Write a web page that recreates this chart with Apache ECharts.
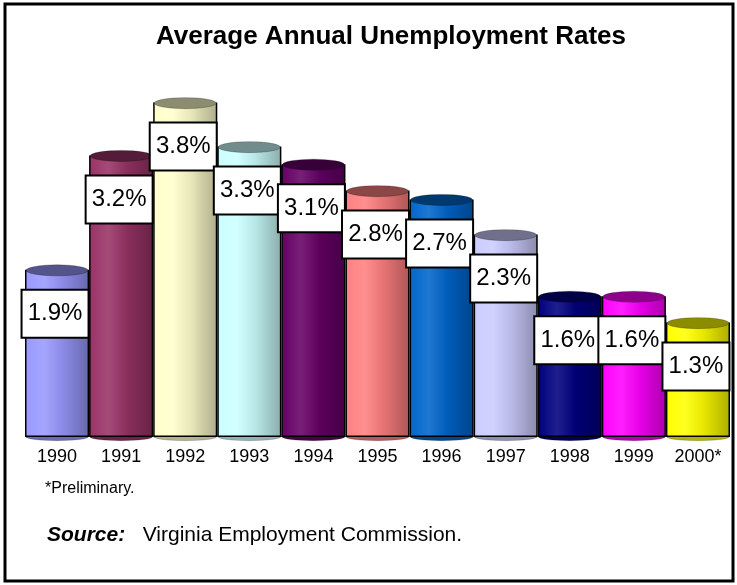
<!DOCTYPE html>
<html><head><meta charset="utf-8">
<script src="https://cdn.jsdelivr.net/npm/echarts@6/dist/echarts.min.js"></script>
<style>html,body{margin:0;padding:0;background:#fff}#c{width:737px;height:585px}</style>
</head><body><div id="c"></div>
<script>
const categories = ['1990','1991','1992','1993','1994','1995','1996','1997','1998','1999','2000*'];
const rates = [1.9, 3.2, 3.8, 3.3, 3.1, 2.8, 2.7, 2.3, 1.6, 1.6, 1.3];
const barColors = ['#9999ff','#993366','#ffffcc','#ccffff','#660066','#ff8080','#0066cc','#ccccff','#000080','#ff00ff','#ffff00'];

function shade(hex, f) {
  const n = parseInt(hex.slice(1), 16);
  let r = (n >> 16) & 255, g = (n >> 8) & 255, b = n & 255;
  if (f >= 0) { r += (255 - r) * f; g += (255 - g) * f; b += (255 - b) * f; }
  else { r *= (1 + f); g *= (1 + f); b *= (1 + f); }
  return 'rgb(' + Math.round(r) + ',' + Math.round(g) + ',' + Math.round(b) + ')';
}
function grad(hex) {
  return new echarts.graphic.LinearGradient(0, 0, 1, 0, [
    {offset: 0, color: shade(hex, 0)},
    {offset: 0.3, color: shade(hex, 0.12)},
    {offset: 0.6, color: shade(hex, -0.1)},
    {offset: 1, color: shade(hex, -0.32)}
  ]);
}
const FONT = '"Liberation Sans", Arial, sans-serif';
const chart = echarts.init(document.getElementById('c'));
chart.setOption({
  animation: false,
  title: {
    text: 'Average Annual Unemployment Rates',
    left: 386, textAlign: 'center', top: 19,
    textStyle: {fontFamily: FONT, fontSize: 26, fontWeight: 'bold', color: '#000'}
  },
  grid: {left: 25, right: 7, top: 85, bottom: 148},
  xAxis: {
    type: 'category', data: categories,
    axisLine: {show: false}, axisTick: {show: false},
    axisLabel: {fontFamily: FONT, fontSize: 18, color: '#000', margin: 11}
  },
  yAxis: {type: 'value', min: 0, max: 4, show: false, splitLine: {show: false}},
  series: [
    {
      type: 'bar', barCategoryGap: 0, barGap: '-100%', z: 2,
      data: rates.map((v, i) => ({value: v, itemStyle: {color: grad(barColors[i])}})),
      itemStyle: {borderColor: '#000', borderWidth: 1.5}
    },
    {
      type: 'pictorialBar', symbol: 'circle', symbolPosition: 'start',
      symbolSize: [63, 8], symbolOffset: [0, '50%'], z: 1,
      data: rates.map((v, i) => ({value: v, itemStyle: {color: shade(barColors[i], -0.3)}})),
      itemStyle: {borderColor: '#000', borderWidth: 2}
    },
    {
      type: 'pictorialBar', symbol: 'circle', symbolPosition: 'end',
      symbolSize: [62, 11], symbolOffset: [0, '-50%'], z: 3,
      data: rates.map((v, i) => ({value: v, itemStyle: {color: shade(barColors[i], -0.45)}})),
      itemStyle: {borderColor: '#000', borderWidth: 2.5}
    },
    {
      type: 'bar', barCategoryGap: 0, barGap: '-100%', z: 10,
      data: rates,
      itemStyle: {color: 'rgba(0,0,0,0)'},
      silent: true,
      label: {
        show: true, position: 'insideTop', distance: 21, offset: [-2, 0],
        formatter: p => p.value.toFixed(1) + '%',
        fontFamily: FONT, fontSize: 24, color: '#000',
        backgroundColor: '#fff', borderColor: '#000', borderWidth: 2,
        width: 55, align: 'center', lineHeight: 26, padding: [10, 5]
      }
    }
  ],
  graphic: [
    {type: 'rect', shape: {x: 5, y: 4, width: 728, height: 577}, style: {fill: 'none', stroke: '#000', lineWidth: 3}, z: 100},
    {type: 'text', left: 45, top: 481, style: {text: '*Preliminary.', font: '16px ' + FONT, fill: '#000'}},
    {type: 'text', left: 47, top: 525, style: {
      text: '{b|Source:}   Virginia Employment Commission.',
      rich: {b: {fontFamily: FONT, fontSize: 21, fontWeight: 'bold', fontStyle: 'italic', fill: '#000'}},
      font: '21px ' + FONT, fill: '#000'}}
  ]
});
</script></body></html>
